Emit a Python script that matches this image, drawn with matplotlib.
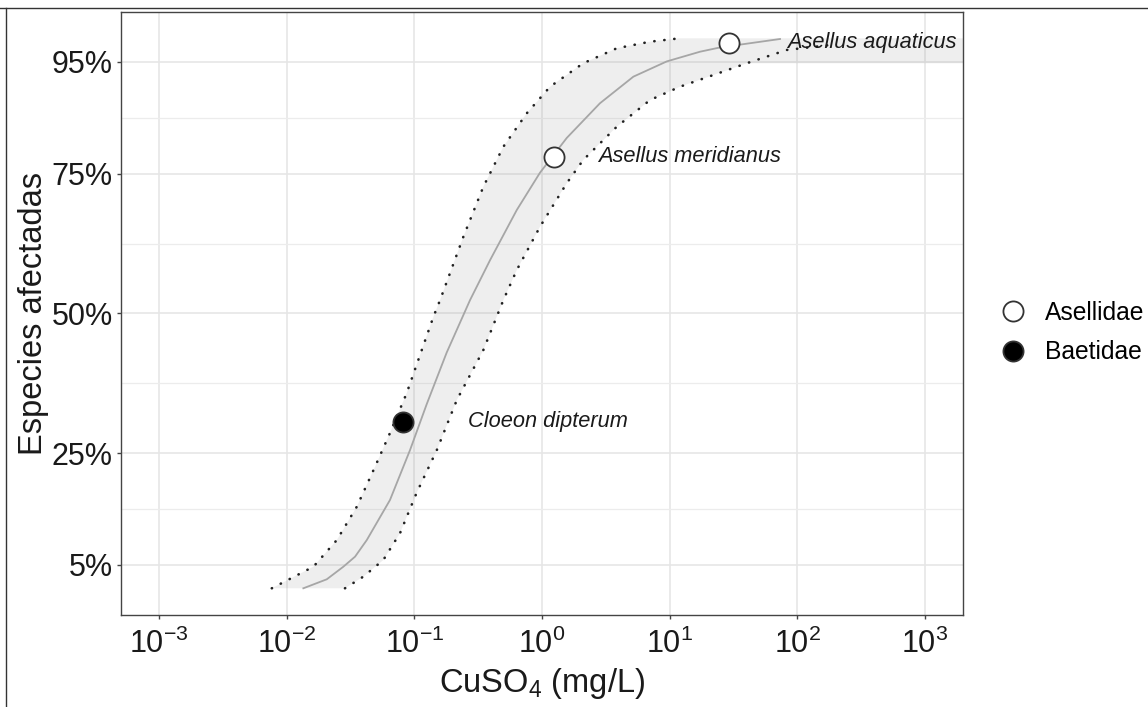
import matplotlib
matplotlib.use("Agg")
import matplotlib.pyplot as plt
from matplotlib.lines import Line2D
from matplotlib.ticker import PercentFormatter, FixedLocator, NullLocator

plt.rcParams['font.family'] = ['Liberation Sans', 'DejaVu Sans']
plt.rcParams['mathtext.fontset'] = 'custom'
plt.rcParams['mathtext.rm'] = 'Liberation Sans'
plt.rcParams['mathtext.it'] = 'Liberation Sans:italic'

# ---- data ----
species = ["Cloeon dipterum", "Asellus meridianus", "Asellus aquaticus"]
family = ["Baetidae", "Asellidae", "Asellidae"]
conc = [0.081, 1.24, 29.2]           # CuSO4 mg/L
affected = [0.306, 0.7805, 0.9845]   # fraction of species affected
label_conc = [0.263, 2.75, 83.0]

# fitted SSD curve
curve_conc = [0.0135, 0.0206, 0.0278, 0.0343, 0.0424, 0.0644, 0.0925, 0.125, 0.179,
              0.273, 0.392, 0.634, 0.964, 1.56, 2.84, 5.19, 9.48, 17.3, 24.8, 73.1]
curve_frac = [0.0083, 0.0244, 0.047, 0.0649, 0.0947, 0.1663, 0.2558, 0.338, 0.430,
              0.5241, 0.5957, 0.6852, 0.752, 0.814, 0.8761, 0.9237, 0.951, 0.9684,
              0.976, 0.9911]

# confidence band, left (upper) bound
upper_conc = [0.00764, 0.0162, 0.0247, 0.0354, 0.0492, 0.0644, 0.0871, 0.141, 0.159,
              0.242, 0.347, 0.498, 0.759, 1.156, 2.10, 3.85, 7.02, 12.05]
upper_frac = [0.0083, 0.047, 0.0947, 0.1543, 0.2259, 0.2862, 0.3577, 0.4943, 0.5241,
              0.6374, 0.7269, 0.7985, 0.8582, 0.9058, 0.9477, 0.9745, 0.9863, 0.9924]

# confidence band, right (lower) bound
lower_conc = [0.0286, 0.0398, 0.0571, 0.0773, 0.104, 0.150, 0.215, 0.347, 0.498,
              0.634, 0.964, 1.56, 2.10, 3.85, 7.02, 12.05, 22.0, 40.1, 82.6, 200.0]
lower_frac = [0.0083, 0.0291, 0.0589, 0.1073, 0.1788, 0.2558, 0.3452, 0.4347, 0.5241,
              0.5778, 0.6553, 0.7330, 0.7746, 0.8342, 0.8820, 0.9058, 0.9267, 0.9477,
              0.9715, 0.9815]

y_ticks = [0.05, 0.25, 0.50, 0.75, 0.95]
y_minor = [0.15, 0.375, 0.625, 0.85]
x_ticks = [1e-3, 1e-2, 1e-1, 1e0, 1e1, 1e2, 1e3]

# ---- figure ----
fig = plt.figure(figsize=(11.48, 7.07), dpi=100)
ax = fig.add_axes([121/1148, 92/707, 842/1148, 603/707])

ax.set_xscale('log')
ax.set_xlim(10**-3.298, 10**3.297)
ax.set_ylim(-0.0395, 1.0394)

ax.xaxis.set_major_locator(FixedLocator(x_ticks))
ax.xaxis.set_minor_locator(NullLocator())
ax.yaxis.set_major_locator(FixedLocator(y_ticks))
ax.yaxis.set_minor_locator(FixedLocator(y_minor))
ax.yaxis.set_major_formatter(PercentFormatter(1.0, decimals=0))

ax.grid(which='major', color='#e6e6e6', linewidth=1.2, zorder=0)
ax.grid(which='minor', axis='y', color='#ececec', linewidth=0.9, zorder=0)
ax.set_axisbelow(True)

for s in ax.spines.values():
    s.set_color('#444444')
    s.set_linewidth(1.0)

ax.tick_params(axis='both', which='major', length=3, width=1.0, color='#444444',
               labelsize=22, labelcolor='#1a1a1a', pad=3)
ax.tick_params(axis='x', which='major', pad=7)
ax.tick_params(axis='y', which='minor', length=0)

# ribbon polygon: left bound upward, across to panel edge at top, right bound downward
xr = ax.get_xlim()[1]
n_low = lower_frac.index(0.9477)
poly_x = upper_conc + [xr, xr] + lower_conc[:n_low + 1][::-1]
poly_y = upper_frac + [upper_frac[-1], lower_frac[n_low]] + lower_frac[:n_low + 1][::-1]
ax.fill(poly_x, poly_y, color='#8c8c8c', alpha=0.14, linewidth=0, zorder=1)

ax.plot(curve_conc, curve_frac, color='#a6a6a6', linewidth=1.3, zorder=2,
        solid_joinstyle='round')
dot_style = dict(color='#222222', linewidth=1.9, linestyle=(0, (0.1, 3.7)),
                 dash_capstyle='round', zorder=3)
ax.plot(upper_conc, upper_frac, **dot_style)
ax.plot(lower_conc, lower_frac, **dot_style)

fam_face = {"Asellidae": "white", "Baetidae": "black"}
for c, f, fam in zip(conc, affected, family):
    ax.plot([c], [f], marker='o', markersize=14.5, markerfacecolor=fam_face[fam],
            markeredgecolor='#333333', markeredgewidth=1.3, linestyle='none', zorder=5)

for lc, f, name in zip(label_conc, affected, species):
    ax.text(lc, f, name, fontsize=15.7, style='italic', color='#1a1a1a',
            ha='left', va='center', zorder=6)

ax.set_xlabel(r'CuSO$_4$ (mg/L)', fontsize=23.5, color='#1a1a1a', labelpad=4)
ax.set_ylabel('Especies afectadas', fontsize=23.5, color='#1a1a1a', labelpad=2)

handles = [Line2D([], [], marker='o', linestyle='none', markersize=14.5,
                  markerfacecolor=fam_face[k], markeredgecolor='#333333',
                  markeredgewidth=1.3, label=k) for k in ["Asellidae", "Baetidae"]]
fig.legend(handles=handles, loc='center left', bbox_to_anchor=(998/1148, 1 - 332.5/707),
           frameon=False, fontsize=17.7, handlelength=1.2, handletextpad=0.7,
           borderpad=0, borderaxespad=0, labelspacing=0.65)

# outer frame of the original image (top and left edges)
fig.add_artist(Line2D([0, 1], [1 - 8/707, 1 - 8/707], transform=fig.transFigure,
                      color='#333333', linewidth=1.0))
fig.add_artist(Line2D([6/1148, 6/1148], [0, 1 - 8/707], transform=fig.transFigure,
                      color='#333333', linewidth=1.0))

fig.savefig('out.png', dpi=100)
